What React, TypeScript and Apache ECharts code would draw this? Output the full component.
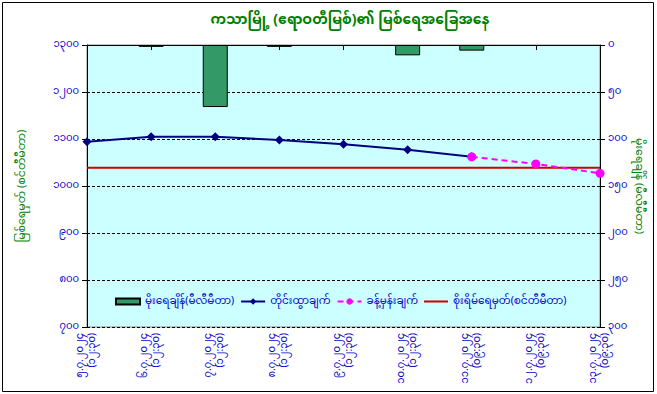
import React, { useEffect, useRef } from "react";
import * as echarts from "echarts";

const categories = [
  "၅.၇.၂၀၂၄\n(၁၂:၃၀)",
  "၆.၇.၂၀၂၄\n(၁၂:၃၀)",
  "၇.၇.၂၀၂၄\n(၁၂:၃၀)",
  "၈.၇.၂၀၂၄\n(၁၂:၃၀)",
  "၉.၇.၂၀၂၄\n(၁၂:၃၀)",
  "၁၀.၇.၂၀၂၄\n(၁၂:၃၀)",
  "၁၁.၇.၂၀၂၄\n(၀၉:၃၀)",
  "၁၂.၇.၂၀၂၄\n(၀၉:၃၀)",
  "၁၃.၇.၂၀၂၄\n(၀၉:၃၀)",
];
const rainfall = [null, 2, 66, 2, null, 11, 6, null, null];
const measured = [1094, 1105, 1105, 1098, 1089, 1077, 1062, null, null];
const forecast = [null, null, null, null, null, null, 1062, 1047, 1027];
const dangerLevel = [1039, 1039, 1039, 1039, 1039, 1039, 1039, 1039, 1039];
const leftTickLabels: Record<number, string> = {
  700: "၇၀၀", 800: "၈၀၀", 900: "၉၀၀", 1000: "၁၀၀၀", 1100: "၁၁၀၀", 1200: "၁၂၀၀", 1300: "၁၃၀၀",
};
const rightTickLabels: Record<number, string> = {
  0: "၀", 50: "၅၀", 100: "၁၀၀", 150: "၁၅၀", 200: "၂၀၀", 250: "၂၅၀", 300: "၃၀၀",
};

const FONT = "'Noto Sans Myanmar', Padauk, 'Myanmar Text', 'Noto Sans', sans-serif";
const BLUE = "#0000CC";
const GREEN = "#008000";

export default function App() {
  const ref = useRef<HTMLDivElement>(null);
  useEffect(() => {
    if (!ref.current) return;
    const chart = echarts.init(ref.current, null, { renderer: "svg" });
    chart.setOption({
      animation: false,
      backgroundColor: "#ffffff",
      textStyle: { fontFamily: FONT },
      title: {
        text: "ကသာမြို့ (ဧရာဝတီမြစ်)၏ မြစ်ရေအခြေအနေ",
        left: 345,
        textAlign: "center",
        top: 8,
        textStyle: { color: GREEN, fontSize: 14, fontWeight: "bold", fontFamily: FONT },
      },
      graphic: [
        {
          type: "rect",
          shape: { x: 2.5, y: 2.5, width: 651, height: 389 },
          style: { fill: "none", stroke: "#000", lineWidth: 1 },
          silent: true,
        },
      ],
      legend: {
        left: 110,
        top: 291,
        itemGap: 6,
        itemWidth: 24,
        itemHeight: 8,
        symbolKeepAspect: true,
        textStyle: { color: BLUE, fontSize: 10.5, fontFamily: FONT },
        data: [
          { name: "မိုးရေချိန်(မီလီမီတာ)", icon: "path://M0,0H24V6H0Z" },
          { name: "တိုင်းထွာချက်" },
          { name: "ခန့်မှန်းချက်" },
          { name: "စိုးရိမ်ရေမှတ်(စင်တီမီတာ)", icon: "path://M0,0H24V2H0Z" },
        ],
      },
      grid: {
        left: 87,
        right: 57,
        top: 45,
        bottom: 67,
        show: true,
        backgroundColor: "#CCFFFF",
        borderColor: "#888",
        borderWidth: 1,
      },
      xAxis: {
        type: "category",
        data: categories,
        boundaryGap: false,
        axisLine: { lineStyle: { color: "#000" } },
        axisTick: { show: true, length: 5, lineStyle: { color: "#000" } },
        axisLabel: {
          rotate: 90,
          color: BLUE,
          fontSize: 10,
          margin: 6,
          lineHeight: 12,
          interval: 0,
          fontFamily: FONT,
        },
        splitLine: { show: false },
      },
      yAxis: [
        {
          type: "value",
          min: 700,
          max: 1300,
          interval: 100,
          position: "left",
          name: "မြစ်ရေမှတ် (စင်တီမီတာ)",
          nameLocation: "middle",
          nameRotate: 90,
          nameGap: 60,
          nameMoveOverlap: false,
          nameTextStyle: { color: GREEN, fontSize: 11, fontFamily: FONT },
          axisLine: { show: true, lineStyle: { color: "#000" } },
          axisTick: { show: true, length: 5, lineStyle: { color: "#000" } },
          axisLabel: {
            color: BLUE,
            fontSize: 10,
            margin: 8,
            fontFamily: FONT,
            formatter: (v: number) => leftTickLabels[v] ?? String(v),
          },
          splitLine: { show: true, lineStyle: { color: "#000", type: [3, 2], width: 1 } },
        },
        {
          type: "value",
          min: 0,
          max: 300,
          interval: 50,
          inverse: true,
          position: "right",
          name: "မိုးရေချိန် (မီလီမီတာ)",
          nameLocation: "middle",
          nameRotate: -90,
          nameGap: 33,
          nameMoveOverlap: false,
          nameTextStyle: { color: GREEN, fontSize: 11, fontFamily: FONT },
          axisLine: { show: true, lineStyle: { color: "#000" } },
          axisTick: { show: true, length: 5, lineStyle: { color: "#000" } },
          axisLabel: {
            color: BLUE,
            fontSize: 10,
            margin: 8,
            fontFamily: FONT,
            formatter: (v: number) => rightTickLabels[v] ?? String(v),
          },
          splitLine: { show: false },
        },
      ],
      series: [
        {
          name: "မိုးရေချိန်(မီလီမီတာ)",
          type: "bar",
          yAxisIndex: 1,
          data: rainfall,
          barWidth: 25,
          itemStyle: { color: "#339966", borderColor: "#000", borderWidth: 1 },
        },
        {
          name: "တိုင်းထွာချက်",
          type: "line",
          yAxisIndex: 0,
          data: measured,
          symbol: "diamond",
          symbolSize: 9,
          lineStyle: { color: "#000080", width: 2 },
          itemStyle: { color: "#000080" },
          z: 4,
        },
        {
          name: "ခန့်မှန်းချက်",
          type: "line",
          yAxisIndex: 0,
          data: forecast,
          symbol: "circle",
          symbolSize: 9,
          lineStyle: { color: "#FF00FF", width: 2, type: [6, 4] },
          itemStyle: { color: "#FF00FF" },
          z: 5,
        },
        {
          name: "စိုးရိမ်ရေမှတ်(စင်တီမီတာ)",
          type: "line",
          yAxisIndex: 0,
          data: dangerLevel,
          symbol: "none",
          lineStyle: { color: "#CC0000", width: 2 },
          itemStyle: { color: "#CC0000" },
          z: 3,
        },
      ],
    });
    return () => chart.dispose();
  }, []);
  return (
    <div
      ref={ref}
      style={{ position: "fixed", left: 0, top: 0, width: 657, height: 394 }}
    />
  );
}
